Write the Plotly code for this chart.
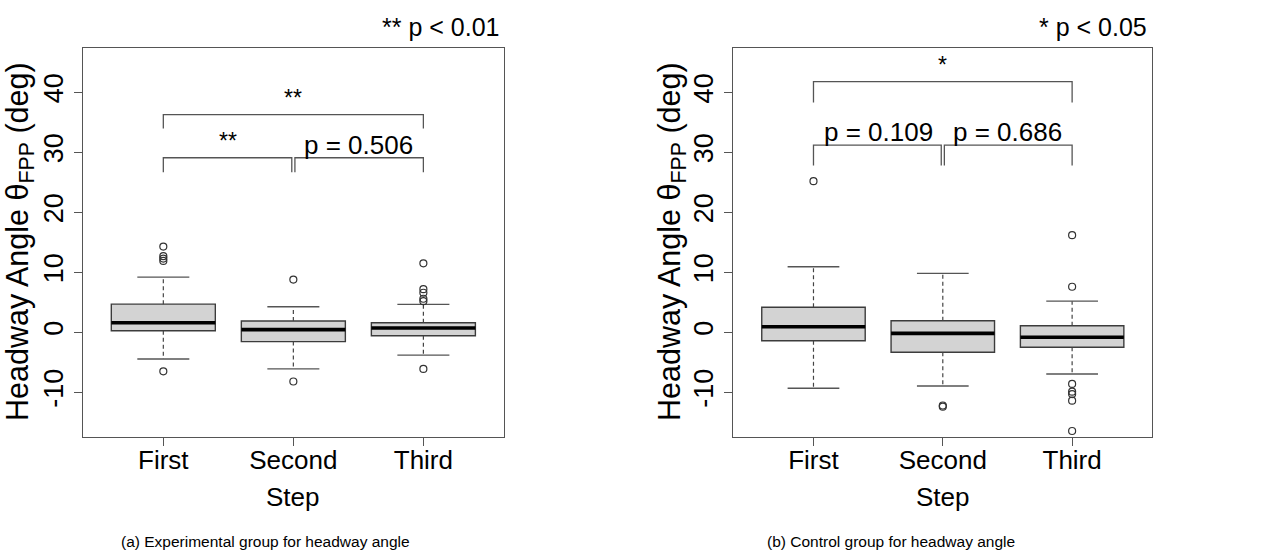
import plotly.graph_objects as go

W, H = 1284, 554

steps = ["First", "Second", "Third"]
xpos = [1, 2, 3]

# (a) Experimental group
exp_q1 = [0.27, -1.55, -0.56]
exp_median = [1.6, 0.45, 0.72]
exp_q3 = [4.7, 1.9, 1.6]
exp_lower = [-4.45, -6.1, -3.8]
exp_upper = [9.2, 4.27, 4.66]
exp_out_x = [1, 1, 1, 1, 1, 2, 2, 3, 3, 3, 3, 3, 3]
exp_out_y = [14.3, 12.7, 12.3, 11.9, -6.5, 8.8, -8.2, 11.5, 7.2, 6.6, 5.6, 5.2, -6.1]
exp_pairs = [(1, 2), (2, 3), (1, 3)]
exp_bracket_y = [29.1, 29.1, 36.3]
exp_bracket_drop = [26.7, 26.7, 34.0]
exp_labels = ["**", "p = 0.506", "**"]

# (b) Control group
ctl_q1 = [-1.4, -3.33, -2.5]
ctl_median = [0.93, -0.17, -0.83]
ctl_q3 = [4.17, 1.93, 1.1]
ctl_lower = [-9.33, -8.95, -6.95]
ctl_upper = [10.93, 9.83, 5.2]
ctl_out_x = [1, 2, 2, 3, 3, 3, 3, 3, 3, 3]
ctl_out_y = [25.2, -12.2, -12.4, 16.2, 7.6, -8.6, -9.9, -10.3, -11.4, -16.45]
ctl_pairs = [(1, 2), (2, 3), (1, 3)]
ctl_bracket_y = [31.2, 31.2, 41.8]
ctl_bracket_drop = [27.8, 27.8, 38.3]
ctl_labels = ["p = 0.109", "p = 0.686", "*"]

sig_notes = ["** p < 0.01", "* p < 0.05"]
captions = ["(a) Experimental group for headway angle", "(b) Control group for headway angle"]
y_title = "Headway Angle θ<sub>FPP</sub> (deg)"
y_ticks = [-10, 0, 10, 20, 30, 40]

FONT = "Liberation Sans, Arial, sans-serif"
FRAME = "#555555"
BOXLINE = "#3c3c3c"
TXT = "#000000"

fig = go.Figure()


def px_x(p):
    return p / W


def px_y(p):
    return 1 - p / H


panels = [
    dict(q1=exp_q1, med=exp_median, q3=exp_q3, lo=exp_lower, up=exp_upper,
         ox=exp_out_x, oy=exp_out_y, pairs=exp_pairs, by=exp_bracket_y,
         bd=exp_bracket_drop, labels=exp_labels, xa="x", ya="y",
         dom=[82.7, 504.0], note=sig_notes[0], cap=captions[0],
         cap_x=265.5, ytitle_x=19),
    dict(q1=ctl_q1, med=ctl_median, q3=ctl_q3, lo=ctl_lower, up=ctl_upper,
         ox=ctl_out_x, oy=ctl_out_y, pairs=ctl_pairs, by=ctl_bracket_y,
         bd=ctl_bracket_drop, labels=ctl_labels, xa="x2", ya="y2",
         dom=[733.3, 1152.3], note=sig_notes[1], cap=captions[1],
         cap_x=891, ytitle_x=671),
]

annotations = []
for i, P in enumerate(panels):
    xa, ya = P["xa"], P["ya"]
    # boxes
    fig.add_trace(go.Box(
        x=xpos, q1=P["q1"], median=P["med"], q3=P["q3"],
        lowerfence=P["q1"], upperfence=P["q3"], width=0.8, whiskerwidth=0,
        fillcolor="#d3d3d3", line=dict(color=BOXLINE, width=1.4),
        boxpoints=False, hoverinfo="skip", showlegend=False,
        xaxis=xa, yaxis=ya))
    # whiskers (dashed), caps, medians
    wx, wy = [], []
    cx, cy = [], []
    mx, my = [], []
    for k, xv in enumerate(xpos):
        wx += [xv, xv, None, xv, xv, None]
        wy += [P["q3"][k], P["up"][k], None, P["q1"][k], P["lo"][k], None]
        cx += [xv - 0.2, xv + 0.2, None, xv - 0.2, xv + 0.2, None]
        cy += [P["up"][k], P["up"][k], None, P["lo"][k], P["lo"][k], None]
        mx += [xv - 0.4, xv + 0.4, None]
        my += [P["med"][k], P["med"][k], None]
    fig.add_trace(go.Scatter(x=wx, y=wy, mode="lines",
                             line=dict(color="#444444", width=1.2, dash="4px,3px"),
                             hoverinfo="skip", showlegend=False, xaxis=xa, yaxis=ya))
    fig.add_trace(go.Scatter(x=cx, y=cy, mode="lines",
                             line=dict(color="#555555", width=1.4),
                             hoverinfo="skip", showlegend=False, xaxis=xa, yaxis=ya))
    fig.add_trace(go.Scatter(x=mx, y=my, mode="lines",
                             line=dict(color="#000000", width=3.6),
                             hoverinfo="skip", showlegend=False, xaxis=xa, yaxis=ya))
    # outliers
    fig.add_trace(go.Scatter(x=P["ox"], y=P["oy"], mode="markers",
                             marker=dict(symbol="circle-open", size=7,
                                         color="#333333", line=dict(width=1.2)),
                             hoverinfo="skip", showlegend=False, xaxis=xa, yaxis=ya))
    # brackets
    bx, byy = [], []
    for (a, b), yb, yd in zip(P["pairs"], P["by"], P["bd"]):
        a2 = a + 0.012 if (a == 2 and b == 3) else a
        b2 = b - 0.012 if (a == 1 and b == 2) else b
        bx += [a2, a2, b2, b2, None]
        byy += [yd, yb, yb, yd, None]
    fig.add_trace(go.Scatter(x=bx, y=byy, mode="lines",
                             line=dict(color="#555555", width=1.3),
                             hoverinfo="skip", showlegend=False, xaxis=xa, yaxis=ya))
    for (a, b), yb, lab in zip(P["pairs"], P["by"], P["labels"]):
        star = lab.startswith("*")
        annotations.append(dict(
            x=(a + b) / 2, y=yb, xref=xa, yref=ya, text=lab, showarrow=False,
            xanchor="center", yanchor="bottom",
            yshift=(2 if star else -4),
            font=dict(family=FONT, size=(23 if star else 26), color=TXT)))
    # step label
    annotations.append(dict(x=2, y=px_y(497), xref=xa, yref="paper", text="Step",
                            showarrow=False, xanchor="center", yanchor="middle",
                            font=dict(family=FONT, size=26, color=TXT)))
    # significance note
    annotations.append(dict(x=px_x(P["dom"][1] - 3), y=px_y(27), xref="paper", yref="paper",
                            text=P["note"], showarrow=False, xanchor="right",
                            yanchor="middle",
                            font=dict(family=FONT, size=25, color=TXT)))
    # caption
    annotations.append(dict(x=px_x(P["cap_x"]), y=px_y(541), xref="paper", yref="paper",
                            text=P["cap"], showarrow=False, xanchor="center",
                            yanchor="middle",
                            font=dict(family=FONT, size=15.5, color=TXT)))
    # y title
    annotations.append(dict(x=px_x(P["ytitle_x"]), y=px_y(242), xref="paper", yref="paper",
                            text=y_title, showarrow=False, textangle=-90,
                            xanchor="center", yanchor="middle",
                            font=dict(family=FONT, size=30.5, color=TXT)))

axis_common = dict(showline=True, mirror=True, linecolor=FRAME, linewidth=1.3,
                   showgrid=False, zeroline=False, ticks="outside", ticklen=8,
                   tickcolor=FRAME, tickwidth=1.2)

layout = dict(
    width=W, height=H, margin=dict(l=0, r=0, t=0, b=0),
    paper_bgcolor="white", plot_bgcolor="white", showlegend=False,
    annotations=annotations,
)
for i, P in enumerate(panels):
    sfx = "" if i == 0 else str(i + 1)
    layout["xaxis" + sfx] = dict(
        axis_common, domain=[px_x(P["dom"][0]), px_x(P["dom"][1])],
        range=[0.38, 3.62], tickvals=xpos, ticktext=steps,
        tickfont=dict(family=FONT, size=26, color=TXT),
        ticklabelstandoff=-8,
        anchor="y" + sfx)
    layout["yaxis" + sfx] = dict(
        axis_common, domain=[px_y(436.7), px_y(48)], range=[-17.4, 47.4],
        tickvals=y_ticks, ticktext=[str(v) for v in y_ticks], tickangle=-90,
        tickfont=dict(family=FONT, size=27, color=TXT),
        anchor="x" + sfx)

fig.update_layout(**layout)
fig.write_html("out.html")
